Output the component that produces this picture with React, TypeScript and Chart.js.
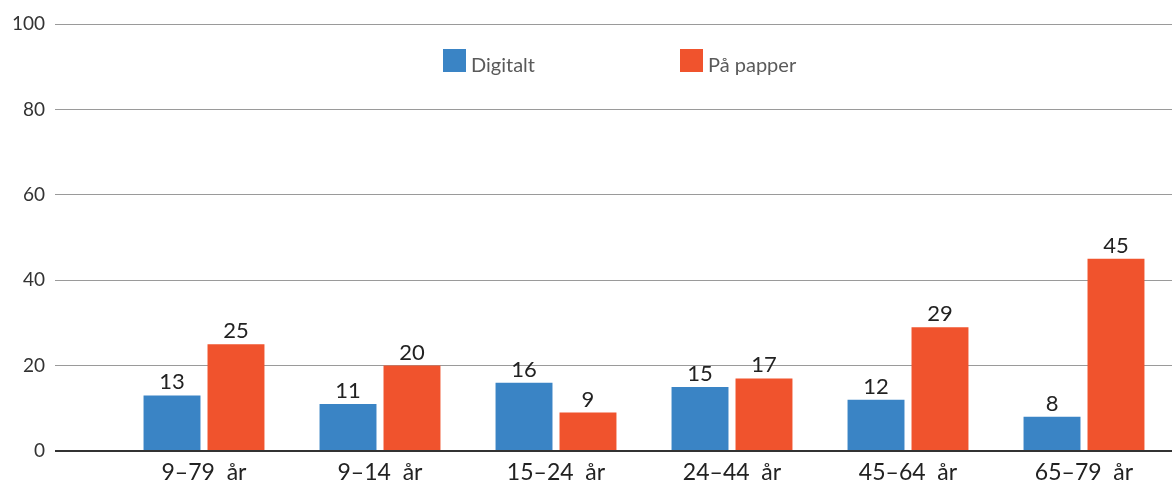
import React, { useEffect, useRef } from "react";
import { Chart, registerables } from "chart.js";

Chart.register(...registerables);

const categories = ["9–79  år", "9–14  år", "15–24  år", "24–44  år", "45–64  år", "65–79  år"];
const digitalt = [13, 11, 16, 15, 12, 8];
const papper = [25, 20, 9, 17, 29, 45];
const seriesNames = ["Digitalt", "På papper"];
const seriesColors = ["#3A84C5", "#F0532D"];
const yTicks = [0, 20, 40, 60, 80, 100];

const FONT = "Lato, 'Noto Sans', sans-serif";

const valueLabels = {
  id: "valueLabels",
  afterDatasetsDraw(chart: any) {
    const ctx = chart.ctx;
    ctx.save();
    ctx.font = `22px ${FONT}`;
    ctx.fillStyle = "#222";
    ctx.textAlign = "center";
    ctx.textBaseline = "alphabetic";
    chart.data.datasets.forEach((ds: any, i: number) => {
      const meta = chart.getDatasetMeta(i);
      meta.data.forEach((el: any, j: number) => {
        ctx.fillText(String(ds.data[j]), el.x, el.y - 6);
      });
    });
    ctx.restore();
  },
};

const innerLegend = {
  id: "innerLegend",
  afterDraw(chart: any) {
    const ctx = chart.ctx;
    const area = chart.chartArea;
    const cx = (area.left + area.right) / 2;
    const offsets = [-201, 36];
    const boxTop = area.top + 25;
    const size = 23;
    ctx.save();
    ctx.font = `20px ${FONT}`;
    ctx.textAlign = "left";
    ctx.textBaseline = "alphabetic";
    chart.data.datasets.forEach((ds: any, i: number) => {
      const x = cx + offsets[i];
      ctx.fillStyle = ds.backgroundColor;
      ctx.fillRect(x, boxTop, size, size);
      ctx.fillStyle = "#5a5a5a";
      ctx.fillText(ds.label, x + size + 5, boxTop + size);
    });
    ctx.restore();
  },
};

export default function App() {
  const ref = useRef<HTMLCanvasElement | null>(null);
  useEffect(() => {
    if (!ref.current) return;
    const chart = new Chart(ref.current, {
      type: "bar",
      data: {
        labels: categories,
        datasets: [
          { label: seriesNames[0], data: digitalt, backgroundColor: seriesColors[0] },
          { label: seriesNames[1], data: papper, backgroundColor: seriesColors[1] },
        ],
      },
      options: {
        responsive: false,
        animation: false,
        layout: { padding: { top: 24, left: 0, right: 0, bottom: 0 } },
        datasets: {
          bar: { categoryPercentage: 0.727, barPercentage: 0.89 },
        },
        plugins: {
          legend: { display: false },
          tooltip: { enabled: false },
        },
        scales: {
          x: {
            grid: { display: false },
            border: { display: false },
            ticks: {
              color: "#222",
              font: { family: FONT, size: 23 },
              padding: 0,
              maxRotation: 0,
              autoSkip: false,
            },
            afterFit(scale: any) {
              scale.height = 33;
            },
          },
          y: {
            min: 0,
            max: 100,
            afterBuildTicks(scale: any) {
              scale.ticks = yTicks.map((v) => ({ value: v }));
            },
            border: { display: false },
            grid: {
              color: (c: any) => (c.tick && c.tick.value === 0 ? "#333" : "#9a9a9a"),
              lineWidth: (c: any) => (c.tick && c.tick.value === 0 ? 2 : 1),
              drawTicks: true,
              tickLength: 61,
            },
            ticks: {
              color: "#333",
              font: { family: FONT, size: 19 },
              padding: 10,
            },
            afterFit(scale: any) {
              scale.width = 116;
            },
          },
        },
      },
      plugins: [valueLabels, innerLegend],
    });
    return () => chart.destroy();
  }, []);
  return (
    <div style={{ position: "absolute", left: 0, top: 0, width: 1172, height: 484, background: "#fff" }}>
      <canvas ref={ref} width={1172} height={484} />
    </div>
  );
}
